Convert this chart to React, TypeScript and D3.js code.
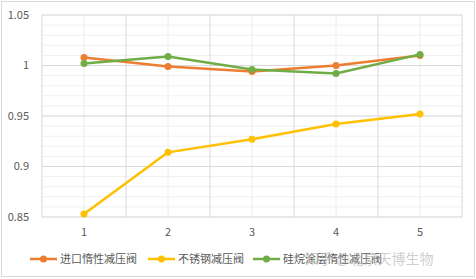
import React from "react";
import * as d3 from "d3";

const categories = ["1", "2", "3", "4", "5"];
const seriesNames = ["进口惰性减压阀", "不锈钢减压阀", "硅烷涂层惰性减压阀"];
const importedValues = [1.008, 0.999, 0.994, 1.0, 1.01];
const stainlessValues = [0.853, 0.914, 0.927, 0.942, 0.952];
const silaneValues = [1.002, 1.009, 0.996, 0.992, 1.011];
const yTicks = [0.85, 0.9, 0.95, 1, 1.05];
const colors = ["#ED7D31", "#FFC000", "#70AD47"];

export default function App() {
  const W = 476, H = 279;
  const left = 42, right = 462, top = 15, bottom = 217;
  const x = d3.scaleBand<string>().domain(categories).range([left, right]);
  const y = d3.scaleLinear().domain([0.85, 1.05]).range([bottom, top]);
  const minorY = d3.range(0.85, 1.0501, 0.01);
  const series = [importedValues, stainlessValues, silaneValues];
  const line = d3
    .line<number>()
    .x((_, i) => (x(categories[i]) as number) + x.bandwidth() / 2)
    .y((d) => y(d));
  const font = "'Noto Sans CJK SC', 'Microsoft YaHei', sans-serif";
  const legendX = [30, 148, 253];
  const legendY = 259;
  return (
    <svg width={W} height={H} style={{ position: "absolute", left: 0, top: 0 }} fontFamily={font}>
      <rect x={0} y={0} width={W} height={H} fill="#fff" />
      <rect x={1.5} y={1.5} width={473} height={275} fill="none" stroke="#d9d9d9" />
      {minorY.map((v, i) => (
        <line key={"my" + i} x1={left} x2={right} y1={y(v)} y2={y(v)} stroke="#f0f0f0" />
      ))}
      {categories.map((c) => (
        <line
          key={"mx" + c}
          x1={(x(c) as number) + x.bandwidth() / 2}
          x2={(x(c) as number) + x.bandwidth() / 2}
          y1={top}
          y2={bottom}
          stroke="#ececec"
        />
      ))}
      {yTicks.map((v) => (
        <line key={"gy" + v} x1={left} x2={right} y1={y(v)} y2={y(v)} stroke="#d9d9d9" />
      ))}
      {categories.concat(["end"]).map((c, i) => {
        const xx = left + i * x.bandwidth();
        return <line key={"gx" + i} x1={xx} x2={xx} y1={top} y2={bottom} stroke="#d9d9d9" />;
      })}
      {yTicks.map((v) => (
        <text key={"ty" + v} x={29} y={y(v)} dy="0.35em" textAnchor="end" fontSize={11} fill="#595959">
          {d3.format("")(v)}
        </text>
      ))}
      {categories.map((c) => (
        <text
          key={"tx" + c}
          x={(x(c) as number) + x.bandwidth() / 2}
          y={232}
          dy="0.35em"
          textAnchor="middle"
          fontSize={11}
          fill="#595959"
        >
          {c}
        </text>
      ))}
      {series.map((s, si) => (
        <g key={"s" + si}>
          <path d={line(s) || ""} fill="none" stroke={colors[si]} strokeWidth={2.5} strokeLinejoin="round" />
          {s.map((v, i) => (
            <circle
              key={i}
              cx={(x(categories[i]) as number) + x.bandwidth() / 2}
              cy={y(v)}
              r={3.5}
              fill={colors[si]}
            />
          ))}
        </g>
      ))}
      {seriesNames.map((n, i) => (
        <g key={"l" + i}>
          <line x1={legendX[i]} x2={legendX[i] + 27} y1={legendY} y2={legendY} stroke={colors[i]} strokeWidth={2.5} />
          <circle cx={legendX[i] + 13.5} cy={legendY} r={3.5} fill={colors[i]} />
          <text x={legendX[i] + 30} y={legendY} dy="0.35em" fontSize={11} fill="#595959">
            {n}
          </text>
        </g>
      ))}
      <text x={305} y={legendY} dy="0.35em" fontSize={14} fill="#bbbbbb" opacity={0.7}>
        知乎 @北京天博生物
      </text>
    </svg>
  );
}
